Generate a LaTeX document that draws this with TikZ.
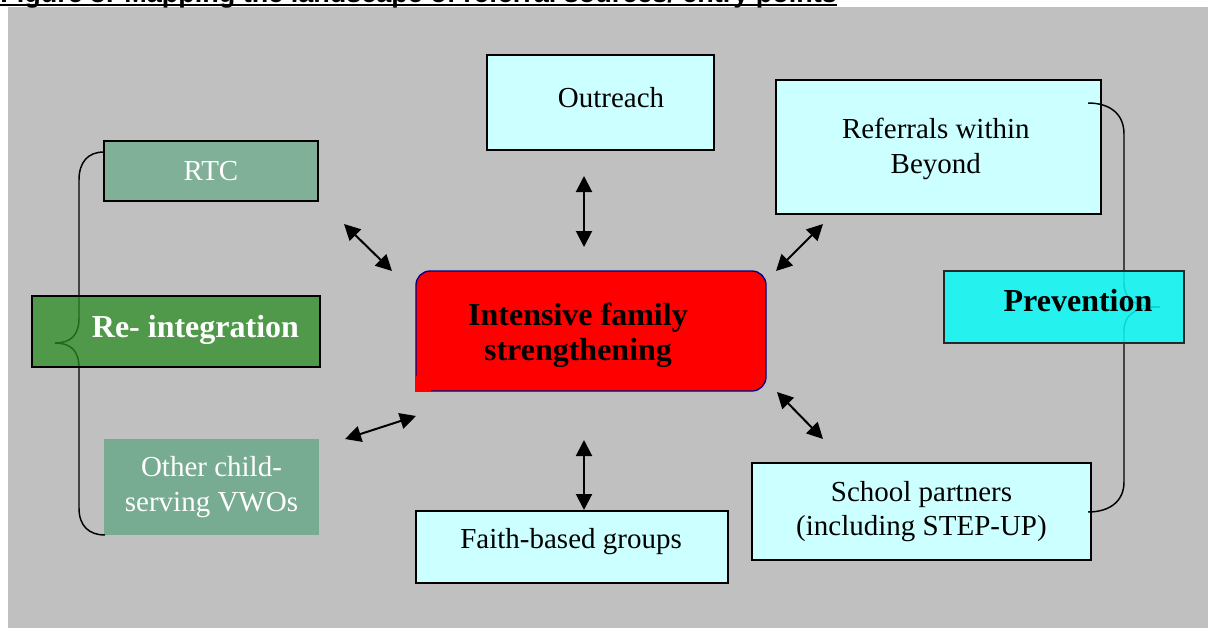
\documentclass[tikz,border=0pt]{standalone}
\usepackage{fontspec}
\setmainfont{Liberation Serif}
\newfontfamily\titlefont{Liberation Sans}
\usetikzlibrary{arrows.meta}
\definecolor{bggray}{HTML}{C0C0C0}
\definecolor{lcyan}{HTML}{CCFFFF}
\definecolor{prevfill}{RGB}{11,251,248}
\definecolor{reintfill}{RGB}{43,141,35}
\definecolor{rtcfill}{RGB}{128,176,152}
\definecolor{vwofill}{RGB}{120,172,146}
\definecolor{navy}{RGB}{0,0,128}
\definecolor{prevborder}{RGB}{40,40,40}
\tikzset{
  cbox/.style={draw=black, line width=1.2pt, fill=lcyan, inner sep=0pt},
  reg/.style={font=\fontsize{21.75}{25.8}\selectfont, align=center, inner sep=0pt, text opacity=1},
  bld/.style={font=\bfseries\fontsize{24}{26.5}\selectfont, align=center, inner sep=0pt, text opacity=1},
  biarrow/.style={line width=1.5pt, {Triangle[length=12pt,width=12pt]}-{Triangle[length=12pt,width=12pt]}},
  bracel/.style={line width=1.1pt, draw=black},
}
\begin{document}
\begin{tikzpicture}[x=0.75pt,y=-0.75pt]
\useasboundingbox (0,0) rectangle (1210,628);
\fill[white] (0,0) rectangle (1210,628);
\fill[bggray] (8,7) rectangle (1208,628);

% title (cut off at the top of the picture, as in the reference)
\node[anchor=base west, inner sep=0pt, font=\titlefont\bfseries\fontsize{20.25}{24}\selectfont] (title) at (0,2.6) {Figure 3: Mapping the landscape of referral sources/ entry points};
\draw[line width=1.6pt] ([yshift=-1.5pt]title.base west) -- ([yshift=-1.5pt]title.base east);

% boxes
\node[cbox, minimum width=170.25pt, minimum height=71.25pt,
      label={[reg, xshift=7.9pt, yshift=3.4pt]center:Outreach}] (out) at (600.5,102.5) {};
\node[cbox, minimum width=243.75pt, minimum height=100.5pt,
      label={[reg, xshift=-2pt, yshift=-1.5pt]center:{Referrals within\\Beyond}}] (ref) at (938.5,147) {};
\node[cbox, reg, minimum width=254.25pt, minimum height=72.75pt] (sch) at (921.5,511.5) {School partners\\(including STEP-UP)};
\node[cbox, minimum width=234pt, minimum height=54pt,
      label={[reg, xshift=-0.7pt, yshift=3.75pt]center:Faith-based groups}] (fai) at (572,547) {};
\node[draw=navy, line width=1pt, fill=red, rounded corners=10.5pt, minimum width=262.5pt, minimum height=90pt,
      label={[bld, xshift=-9.75pt, yshift=-3pt]center:{Intensive family\\strengthening}}] (ifs) at (591,331) {};
\fill[red] ([xshift=-0.5pt,yshift=-0.5pt]ifs.south west) rectangle ++(16,-16);
\node[draw=black, line width=1.1pt, fill=rtcfill, text=white, reg, minimum width=160.5pt, minimum height=45pt] (rtc) at (211,171) {RTC};
\node[fill=vwofill, text=white, reg, minimum width=161.25pt, minimum height=72pt] (vwo) at (211.5,487) {Other child-\\serving VWOs};

% arrows
\coordinate (a1s) at (344,224); \coordinate (a1e) at (392,271);
\coordinate (a2s) at (584,176); \coordinate (a2e) at (584,247);
\coordinate (a3s) at (823,224); \coordinate (a3e) at (776,271);
\coordinate (a4s) at (345,439); \coordinate (a4e) at (416,416);
\coordinate (a5s) at (777,392); \coordinate (a5e) at (823,439);
\coordinate (a6s) at (584,440); \coordinate (a6e) at (584,510);
\draw[biarrow] (a1s) -- (a1e);
\draw[biarrow] (a2s) -- (a2e);
\draw[biarrow] (a3s) -- (a3e);
\draw[biarrow] (a4s) -- (a4e);
\draw[biarrow] (a5s) -- (a5e);
\draw[biarrow] (a6s) -- (a6e);

% braces
\coordinate (lbt) at (104,152); \coordinate (lbm) at (55,343); \coordinate (lbb) at (105,535);
\draw[bracel] (lbt) .. controls (88,152) and (79,162) .. (79,180) -- (79,318)
      .. controls (79,336) and (70,343) .. (lbm)
      .. controls (70,343) and (79,350) .. (79,368) -- (79,508)
      .. controls (79,526) and (89,535) .. (lbb);
\coordinate (rbt) at (1088,103); \coordinate (rbm) at (1160,307); \coordinate (rbb) at (1088,512);
\draw[bracel] (rbt) .. controls (1110,103) and (1124,114) .. (1124,134) -- (1124,283)
      .. controls (1124,299) and (1134,307) .. (rbm)
      .. controls (1134,307) and (1124,315) .. (1124,331) -- (1124,482)
      .. controls (1124,501) and (1110,512) .. (rbb);

% group boxes (slightly transparent over the braces)
\node[draw=black, line width=1.3pt, fill=reintfill, fill opacity=0.75, draw opacity=1, minimum width=216pt, minimum height=53.25pt,
      label={[bld, text=white, xshift=14.6pt, yshift=1.5pt]center:Re- integration}] (reint) at (176,331.5) {};
\node[draw=prevborder, line width=0.8pt, fill=prevfill, fill opacity=0.85, draw opacity=1, minimum width=180pt, minimum height=54pt,
      label={[bld, xshift=10.5pt, yshift=4.5pt]center:Prevention}] (prev) at (1064,307) {};
\end{tikzpicture}
\end{document}
